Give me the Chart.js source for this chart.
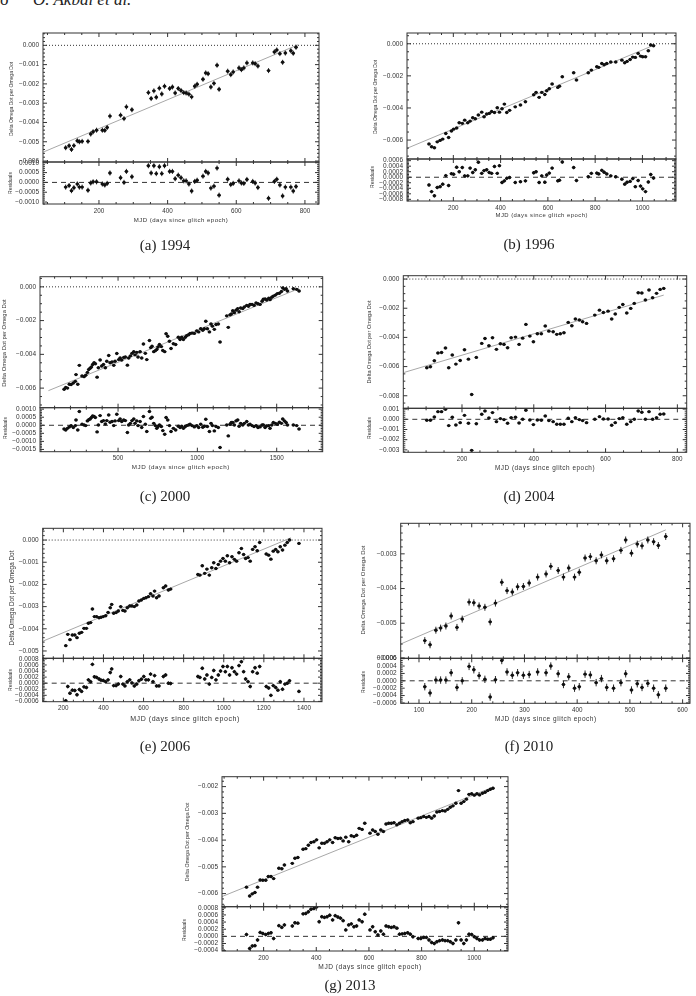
<!DOCTYPE html>
<html><head><meta charset="utf-8">
<script src="https://cdn.jsdelivr.net/npm/chart.js@4.4.1/dist/chart.umd.min.js"></script>
<style>
html,body{margin:0;padding:0;background:#fff;}
body{width:696px;height:996px;position:relative;overflow:hidden;font-family:'Liberation Sans',Arial,sans-serif;}
canvas{position:absolute;}
.t{position:absolute;white-space:nowrap;color:#333;line-height:1;}
.xt{transform:translate(-50%,-50%);letter-spacing:0.08em;}
.yt{transform:translate(-50%,-50%) rotate(-90deg);}
.cap{position:absolute;white-space:nowrap;font-family:'Liberation Serif','Times New Roman',serif;font-size:15px;color:#222;line-height:1;transform:translate(-50%,-50%);}
.hdr{position:absolute;white-space:nowrap;font-family:'Liberation Serif',serif;font-style:italic;font-size:17px;line-height:17px;color:#222;top:-9px;}
</style></head><body>
<div class="hdr" style="left:0px">6</div>
<div class="hdr" style="left:33px">O. Akbal et al.</div>
<script>
// ---------------- DATA ----------------
// (a) 1994
const aX = [103,113,120,127,137,143,151,168,176,183,193,210,217,224,232,263,273,280,296,344,352,360,367,376,383,391,406,414,422,431,439,447,454,462,470,479,486,503,511,518,526,535,544,550,575,584,591,608,615,622,631,648,655,663,694,711,718,727,735,743,759,766,774];
const aY = [-0.00531,-0.00521,-0.0054,-0.0052,-0.00495,-0.005,-0.00498,-0.00498,-0.0046,-0.00448,-0.0044,-0.0044,-0.00441,-0.00426,-0.00367,-0.00362,-0.0038,-0.00319,-0.00334,-0.00245,-0.00276,-0.00236,-0.00269,-0.00222,-0.00252,-0.00212,-0.00224,-0.00216,-0.00247,-0.00224,-0.00234,-0.00245,-0.00247,-0.00253,-0.00267,-0.00212,-0.00202,-0.00176,-0.00143,-0.00147,-0.00216,-0.00197,-0.00103,-0.00228,-0.00134,-0.00152,-0.00138,-0.00117,-0.00126,-0.00117,-0.00091,-0.00091,-0.00095,-0.00107,-0.00131,-0.00034,-0.00024,-0.00043,-0.00088,-0.0004,-0.00028,-0.00041,-0.0001];
const aR = [-0.00024,-0.00016,-0.00042,-0.00027,-0.00008,-0.00024,-0.00024,-0.0004,-0.00003,0.00003,0.00003,-0.00008,-0.00013,-0.00005,0.00048,0.00024,0,0.00056,0.00029,0.00085,0.00048,0.00085,0.00045,0.0008,0.00045,0.00085,0.00056,0.00056,0.00019,0.00037,0.00024,0.00008,0.00008,-0.00008,-0.00044,0.00005,0.00011,0.00032,0.00056,0.00048,-0.00029,-0.00019,0.00073,-0.00065,0.00016,-0.00011,-0.00005,0.00008,-0.00003,-0.00005,0.00015,0.00005,-0.00003,-0.00026,-0.00081,0.00005,0.00016,-0.00013,-0.00069,-0.00024,-0.00024,-0.00044,-0.00021];
const aFitX = [40,780];
const aFitY = [-0.00552,0.00003];
const aXT = [200,400,600,800];
const aYT = [0,-0.001,-0.002,-0.003,-0.004,-0.005,-0.006];
const aRT = [0.001,0.0005,0,-0.0005,-0.001];

// (b) 1996
const bX = [97,108,120,132,144,155,168,180,192,201,214,225,238,248,261,271,282,293,306,320,330,341,352,362,374,386,395,406,416,426,438,462,484,505,540,550,563,574,587,595,606,618,642,649,661,709,721,771,784,807,815,828,838,849,866,887,913,925,935,948,959,970,982,992,1001,1013,1025,1035,1047];
const bY = [-0.00625,-0.00642,-0.00648,-0.00611,-0.00602,-0.00594,-0.00559,-0.00584,-0.00544,-0.00532,-0.00525,-0.00492,-0.00496,-0.00476,-0.00492,-0.00482,-0.00461,-0.00467,-0.00444,-0.00426,-0.00455,-0.00438,-0.00434,-0.00422,-0.00428,-0.00399,-0.00426,-0.00405,-0.00376,-0.00428,-0.00415,-0.00393,-0.00382,-0.00361,-0.00318,-0.00303,-0.00334,-0.00303,-0.00316,-0.00293,-0.0028,-0.00251,-0.00272,-0.00264,-0.00206,-0.00181,-0.00226,-0.00181,-0.00164,-0.00143,-0.00147,-0.00123,-0.00131,-0.00123,-0.00114,-0.00114,-0.00102,-0.00118,-0.0011,-0.00098,-0.00083,-0.00085,-0.0006,-0.00077,-0.00081,-0.00081,-0.00044,-0.00008,-0.00012];
const bR = [-0.00028,-0.00052,-0.00067,-0.00037,-0.00034,-0.00025,0.00006,-0.0003,0.00013,0.00011,0.00036,0.0002,0.00035,0.00005,0.00005,0.00033,0.00017,0.00027,0.00054,0.00014,0.00024,0.00027,0.00017,0.00014,0.00039,0.00014,0.00042,-0.00019,-0.00013,-0.00004,-0.00001,-0.00019,-0.00016,-0.00013,0.00016,0.0002,-0.00019,0.00005,-0.00018,0.00008,0.00015,0.00033,-0.00013,-0.00011,0.00055,0.00035,-0.00012,0.00002,0.00014,0.00015,0.00012,0.00025,0.00018,0.00012,0.00005,0.00002,-0.00007,-0.00025,-0.00018,-0.00015,-0.00005,-0.00034,-0.00012,-0.00032,-0.00042,-0.00052,-0.00017,0.0001,-0.00003];
const bFitX = [3,1050];
const bFitY = [-0.00652,-0.00008];
const bXT = [200,400,600,800,1000];
const bYT = [0,-0.002,-0.004,-0.006];
const bRT = [0.0006,0.0004,0.0002,0,-0.0002,-0.0004,-0.0006,-0.0008];

// (c) 2000
const cX = [160,170,181,193,204,218,231,235,246,256,273,286,296,307,315,324,332,340,349,357,368,376,387,397,408,420,429,441,450,462,473,481,492,504,513,523,536,546,559,567,578,588,599,607,618,626,639,649,660,672,681,698,706,714,725,735,744,752,761,773,782,794,803,813,824,834,849,863,880,891,901,912,924,933,945,954,966,981,996,1008,1021,1034,1044,1053,1063,1076,1086,1095,1107,1118,1132,1143,1185,1195,1206,1214,1223,1233,1244,1254,1263,1273,1286,1296,1311,1322,1332,1345,1357,1370,1382,1395,1408,1416,1427,1437,1450,1458,1469,1479,1492,1504,1517,1530,1538,1549,1559,1568,1605,1626,1641];
const cY = [-0.00607,-0.00596,-0.006,-0.00577,-0.00579,-0.0057,-0.0056,-0.0052,-0.00577,-0.00465,-0.00528,-0.00532,-0.00524,-0.00507,-0.0049,-0.00482,-0.00475,-0.0046,-0.0045,-0.00456,-0.00535,-0.00479,-0.00433,-0.00469,-0.0046,-0.00479,-0.00441,-0.00407,-0.0045,-0.00445,-0.00465,-0.00441,-0.00395,-0.00431,-0.00422,-0.00433,-0.00418,-0.00416,-0.00464,-0.00422,-0.00409,-0.00394,-0.00384,-0.00403,-0.00388,-0.00416,-0.00384,-0.00422,-0.00339,-0.00394,-0.00431,-0.00318,-0.0036,-0.00352,-0.00384,-0.00378,-0.00371,-0.00356,-0.00342,-0.00354,-0.00377,-0.00384,-0.00278,-0.00293,-0.00322,-0.00365,-0.00337,-0.00342,-0.00299,-0.00312,-0.00299,-0.00312,-0.00299,-0.00289,-0.00284,-0.00276,-0.00274,-0.00276,-0.00261,-0.00267,-0.00248,-0.00257,-0.00248,-0.00204,-0.00248,-0.00267,-0.0022,-0.00233,-0.00252,-0.00223,-0.0022,-0.00327,-0.00172,-0.0024,-0.00166,-0.00161,-0.00142,-0.00153,-0.00138,-0.00129,-0.00148,-0.00125,-0.00129,-0.00119,-0.0011,-0.00115,-0.00104,-0.00104,-0.0011,-0.00096,-0.001,-0.00104,-0.00085,-0.00074,-0.00072,-0.00078,-0.00068,-0.00076,-0.00062,-0.00055,-0.00049,-0.0004,-0.00038,-0.00028,-0.00006,-0.00015,-0.00011,-0.00025,-0.00011,-0.00015,-0.00025];
const cR = [-0.00023,-0.00029,-0.00019,-0.0001,-0.00002,-0.00014,-0.00002,0.00033,-0.00029,0.00085,0.00006,0.00002,-0.00002,0.00027,0.00035,0.00039,0.00048,0.00058,0.00054,0.00048,-0.00041,0.00002,0.0006,0.00023,0.00029,0.00008,0.00029,0.00064,0.00019,0.00023,-0.00002,0.00027,0.00068,0.00029,0.00039,0.00023,0.00033,0.00029,-0.00045,0.00002,0.00012,0.00029,0.00039,0.00012,0.00027,-0.00002,0.00023,-0.00014,0.00054,0.00006,-0.00039,0.00085,0.00043,0.0005,0.00012,-0.00002,-0.00019,-0.00008,0.00002,-0.00008,-0.00033,-0.00056,0.00048,0.00033,-0.00002,-0.00039,-0.00019,-0.00029,-0.00006,-0.00014,-0.00006,-0.00019,-0.00008,-0.00002,0.00002,0.00006,-0.00002,-0.0001,-0.00002,-0.00014,0.00006,-0.00012,-0.00006,0.00037,-0.00008,-0.00039,0.00012,-0.00002,-0.00035,-0.00008,-0.00014,-0.00138,0.00002,-0.00066,0.00006,0.00017,0.00017,0.00002,0.00027,0.00033,-0.00006,0.00012,0.00002,0.00012,0.00023,0.00002,0.00006,-0.00002,-0.00008,-0.00002,-0.00014,-0.0001,0.00002,0.00002,-0.00014,-0.00004,-0.00002,-0.00019,0.00002,0.00017,0.00012,0.00006,0.00019,0.00012,0.00039,0.00027,0.00017,0.00002,0.00002,-0.00002,-0.00023];
const cFitX = [61,1641];
const cFitY = [-0.00615,-0.0001];
const cXT = [500,1000,1500];
const cYT = [0,-0.002,-0.004,-0.006];
const cRT = [0.001,0.0005,0,-0.0005,-0.001,-0.0015];

// (d) 2004
const dX = [102,112,123,133,143,154,163,173,183,195,207,218,227,240,255,264,275,285,296,307,317,327,337,349,359,369,378,389,399,410,421,432,442,454,464,474,484,496,506,516,527,536,547,570,583,594,607,617,627,638,648,659,670,680,691,701,711,721,731,742,752,762];
const dY = [-0.00608,-0.00601,-0.0056,-0.00507,-0.00503,-0.00473,-0.00608,-0.00521,-0.00583,-0.00558,-0.00485,-0.00549,-0.00791,-0.00537,-0.00441,-0.00407,-0.00457,-0.00402,-0.00482,-0.00443,-0.00448,-0.00471,-0.00402,-0.00398,-0.00448,-0.00405,-0.00311,-0.00391,-0.0043,-0.00375,-0.00375,-0.00322,-0.00357,-0.00361,-0.00379,-0.00375,-0.00368,-0.00297,-0.0032,-0.00274,-0.00281,-0.00293,-0.00304,-0.00247,-0.00213,-0.00229,-0.0022,-0.00274,-0.0024,-0.00194,-0.00174,-0.00233,-0.00201,-0.00167,-0.00094,-0.00096,-0.00144,-0.00075,-0.00128,-0.00098,-0.00071,-0.00064];
const dR = [-0.0001,-0.0001,0.00023,0.00075,0.00075,0.00098,-0.00062,0.0002,-0.00056,-0.00033,0.00039,-0.00039,-0.00305,-0.00043,0.00049,0.00082,0.00013,0.00066,-0.00023,0.00007,-0.00003,-0.00039,0.00016,0.0002,-0.00036,0,0.00089,-0.00007,-0.00052,-0.00007,-0.0001,0.00033,-0.00013,-0.00023,-0.00049,-0.00049,-0.00049,0.0001,-0.00023,0.00016,-0.00003,-0.00013,-0.00033,0,0.00026,0.00003,0.00003,-0.00059,-0.00033,0.00007,0.00016,-0.00049,-0.00023,0,0.00082,0.00069,0,0.00075,0,0.00016,0.00049,0.00052];
const dFitX = [39,762];
const dFitY = [-0.0064,-0.0011];
const dXT = [200,400,600,800];
const dYT = [0,-0.002,-0.004,-0.006,-0.008];
const dRT = [0.001,0,-0.001,-0.002,-0.003];

// (e) 2006
const eX = [212,222,233,245,257,268,280,291,303,315,325,336,345,355,366,378,388,399,411,423,434,441,451,463,474,486,497,507,519,531,542,554,566,577,589,601,612,624,635,647,655,665,677,699,710,724,735,871,881,893,905,916,928,940,950,961,973,984,996,1008,1018,1029,1041,1053,1064,1076,1088,1099,1109,1121,1132,1144,1156,1167,1179,1212,1224,1235,1247,1259,1270,1282,1293,1305,1317,1328,1375];
const eY = [-0.00476,-0.00425,-0.00449,-0.00428,-0.00428,-0.0044,-0.0042,-0.00416,-0.00398,-0.00398,-0.00375,-0.00372,-0.00311,-0.00345,-0.00345,-0.0035,-0.00348,-0.00345,-0.00341,-0.00326,-0.00305,-0.0029,-0.0033,-0.00327,-0.0032,-0.003,-0.00317,-0.0032,-0.00305,-0.00297,-0.00297,-0.003,-0.00293,-0.00275,-0.0027,-0.00263,-0.0026,-0.00255,-0.00242,-0.00252,-0.0023,-0.0026,-0.00252,-0.00215,-0.00207,-0.00225,-0.00221,-0.00155,-0.00158,-0.00116,-0.0015,-0.00131,-0.00158,-0.00125,-0.00102,-0.00128,-0.0011,-0.00095,-0.00083,-0.00095,-0.00071,-0.00102,-0.00075,-0.00087,-0.00095,-0.00057,-0.00038,-0.00065,-0.00083,-0.00079,-0.00095,-0.00042,-0.0003,-0.00048,-0.00011,-0.00063,-0.00068,-0.00086,-0.0005,-0.00042,-0.00053,-0.0003,-0.00045,-0.00023,-0.00011,0,-0.00015];
const eR = [-0.00058,-0.00011,-0.00033,-0.00023,-0.00024,-0.00038,-0.00021,-0.00027,-0.00012,-0.00014,0.00011,0.00005,0.00062,0.00021,0.00019,0.00014,0.0001,0.00009,0.00005,0.00011,0.00035,0.00047,-0.00008,-0.00008,-0.00003,0.00022,-0.00003,-0.00009,0.00005,0.00011,0.00001,-0.00009,-0.00003,0.00008,0.00013,0.00022,0.00011,0.00011,0.0003,0.00005,0.00025,-0.00009,-0.00009,0.00022,0.00027,0,-0.00001,0.00022,0.00019,0.00049,0.00014,0.00027,-0.00003,0.00019,0.00042,0.00011,0.00027,0.0004,0.00055,0.00038,0.00055,0.00027,0.00051,0.00038,0.0003,0.00058,0.00071,0.00038,0.00014,0.00005,-0.00011,0.00038,0.00051,0.00033,0.00055,-0.00011,-0.00016,-0.0004,-0.00008,-0.00014,-0.00023,0.00005,-0.0002,-0.00003,0,0.00008,-0.00027];
const eFitX = [100,1335];
const eFitY = [-0.00455,0.0001];
const eXT = [200,400,600,800,1000,1200,1400];
const eYT = [0,-0.001,-0.002,-0.003,-0.004,-0.005];
const eRT = [0.0008,0.0006,0.0004,0.0002,0,-0.0002,-0.0004,-0.0006];

// (f) 2010
const fX = [111,121,132,141,151,161,172,182,195,204,214,225,235,245,257,267,277,287,298,309,325,341,350,364,374,384,395,404,415,425,436,446,456,469,483,492,503,514,523,534,545,554,568];
const fY = [-0.0055,-0.00562,-0.0052,-0.00514,-0.00508,-0.00479,-0.00512,-0.00488,-0.00439,-0.00441,-0.0045,-0.00454,-0.00496,-0.00442,-0.00382,-0.00406,-0.0041,-0.00395,-0.00394,-0.00384,-0.00367,-0.00358,-0.00336,-0.00348,-0.00367,-0.00341,-0.00367,-0.00353,-0.00312,-0.00308,-0.0032,-0.00303,-0.0032,-0.00314,-0.0029,-0.0026,-0.00298,-0.00272,-0.00277,-0.0026,-0.00265,-0.00276,-0.0025];
const fR = [-0.00016,-0.00033,0.00002,0.00002,0.00002,0.00022,-0.00018,0,0.00039,0.0003,0.00014,0.00004,-0.00044,0.00003,0.00055,0.00024,0.00015,0.00022,0.00015,0.00017,0.00024,0.00022,0.0004,0.00019,-0.0001,0.00011,-0.0002,-0.00016,0.00018,0.00016,-0.00005,0.00006,-0.00018,-0.0002,-0.00005,0.00019,-0.00025,-0.00008,-0.00018,-0.00007,-0.0002,-0.00038,-0.0002];
const fFitX = [65,568];
const fFitY = [-0.0056,-0.00231];
const fXT = [100,200,300,400,500,600];
const fYT = [-0.003,-0.004,-0.005,-0.006];
const fRT = [0.0006,0.0004,0.0002,0,-0.0002,-0.0004,-0.0006];

// (g) 2013
const gX = [135,147,157,167,177,187,197,208,218,228,238,258,269,279,309,319,330,350,360,370,380,391,401,411,421,431,441,451,462,472,482,492,502,512,523,533,543,553,563,574,584,604,614,624,634,645,655,665,675,685,695,706,716,726,736,747,757,767,787,797,808,818,828,838,848,858,868,879,889,899,909,919,930,940,950,960,970,980,990,1000,1010,1020,1031,1041,1051,1061,1071];
const gY = [-0.00576,-0.00609,-0.00601,-0.00596,-0.00576,-0.00549,-0.0055,-0.0055,-0.00536,-0.00536,-0.00544,-0.00505,-0.00507,-0.00493,-0.00487,-0.00468,-0.00465,-0.00434,-0.00432,-0.00419,-0.00409,-0.00406,-0.00399,-0.00429,-0.00412,-0.00412,-0.00406,-0.00399,-0.00409,-0.00391,-0.00394,-0.00393,-0.00403,-0.00389,-0.00406,-0.00384,-0.00387,-0.00382,-0.00356,-0.0036,-0.00337,-0.00374,-0.00362,-0.00368,-0.00378,-0.00362,-0.00368,-0.0034,-0.00337,-0.00337,-0.00335,-0.00343,-0.00337,-0.00331,-0.00327,-0.00325,-0.00335,-0.00331,-0.00318,-0.00316,-0.00312,-0.00315,-0.00312,-0.00318,-0.0031,-0.00295,-0.00293,-0.0029,-0.00291,-0.00285,-0.00277,-0.00272,-0.00262,-0.00215,-0.00262,-0.00256,-0.00247,-0.00229,-0.00227,-0.00232,-0.00227,-0.00231,-0.00225,-0.00221,-0.00215,-0.0021,-0.00206];
const gR = [0.00005,-0.00034,-0.00027,-0.00026,-0.0001,0.00011,0.00008,0.00005,0.00008,0.0001,-0.00006,0.0003,0.00025,0.00032,0.00029,0.00038,0.00037,0.00063,0.00064,0.00069,0.00076,0.00078,0.00082,0.00041,0.00055,0.00053,0.00055,0.00059,0.00046,0.00058,0.00054,0.00051,0.00044,0.00018,0.00032,0.00035,0.00027,0.00029,0.00046,0.00041,0.00062,0.00018,0.00027,0.00013,0.00004,0.00015,0.00006,0.00029,0.00027,0.00025,0.00027,0.00023,0.00006,0.00007,0.00008,0.0001,0.00006,-0.00001,-0.00006,-0.00006,-0.00003,-0.00003,-0.0001,-0.00017,-0.0002,-0.00015,-0.00012,-0.0001,-0.00012,-0.00012,-0.00015,-0.0002,-0.0001,0.00038,-0.0001,-0.0002,-0.0001,0.00006,0.00005,-0.00001,-0.00006,-0.0001,-0.0001,-0.00006,-0.00008,-0.00008,-0.00004];
const gFitX = [42,1071];
const gFitY = [-0.00611,-0.00202];
const gXT = [200,400,600,800,1000];
const gYT = [-0.002,-0.003,-0.004,-0.005,-0.006];
const gRT = [0.0008,0.0006,0.0004,0.0002,0,-0.0002,-0.0004];

const xTitle = 'MJD (days since glitch epoch)';
const yTitle = 'Delta Omega Dot per Omega Dot';
const rTitle = 'Residuals';

// ---------------- LAYOUT ----------------
const panels = [
 {X:aX,Y:aY,R:aR,FX:aFitX,FY:aFitY,XT:aXT,YT:aYT,RT:aRT, L:43,Rt:319,T:33,M:162,B:204, xr:[37,841], yr:[-0.00605,0.00064], rr:[-0.0011,0.00104], zero:true, err:0.00013, xMin:4,yMin:5,rMin:5,rDec:4, cap:[165,244.5,'(a) 1994'], xt:[181,220,6.05], yt:[10.5,99,5], rt:[10,183,5]},
 {X:bX,Y:bY,R:bR,FX:bFitX,FY:bFitY,XT:bXT,YT:bYT,RT:bRT, L:407,Rt:676,T:33,M:159,B:201, xr:[4,1142], yr:[-0.00718,0.00067], rr:[-0.00086,0.00066], zero:true, err:0.00006, xMin:4,yMin:4,rMin:4,rDec:4, cap:[529,244.3,'(b) 1996'], xt:[541.7,216,5.9], yt:[375,97,5], rt:[371.7,177,5]},
 {X:cX,Y:cY,R:cR,FX:cFitX,FY:cFitY,XT:cXT,YT:cYT,RT:cRT, L:40,Rt:322.7,T:276.7,M:407.7,B:451.7, xr:[8,1790], yr:[-0.00716,0.0006], rr:[-0.00164,0.00109], zero:true, err:0.00007, xMin:5,yMin:4,rMin:5,rDec:4, cap:[165,496,'(c) 2000'], xt:[180.8,466.7,6.25], yt:[5,343,5.9], rt:[4.5,428,5]},
 {X:dX,Y:dY,R:dR,FX:dFitX,FY:dFitY,XT:dXT,YT:dYT,RT:dRT, L:403.3,Rt:686.7,T:275.7,M:408.3,B:452.3, xr:[36.5,826], yr:[-0.00886,0.00023], rr:[-0.00324,0.00108], zero:true, err:0.00005, xMin:4,yMin:4,rMin:5,rDec:3, cap:[529,496,'(d) 2004'], xt:[545,467.7,6.4], yt:[370,342,5.6], rt:[369,428,5]},
 {X:eX,Y:eY,R:eR,FX:eFitX,FY:eFitY,XT:eXT,YT:eYT,RT:eRT, L:42.7,Rt:322,T:528.3,M:658.3,B:701.7, xr:[97,1490], yr:[-0.00533,0.00053], rr:[-0.00061,0.00082], zero:true, err:0.00006, xMin:4,yMin:5,rMin:4,rDec:4, cap:[165,746,'(e) 2006'], xt:[185,717.7,7.0], yt:[12,598,6.4], rt:[10,680,5]},
 {X:fX,Y:fY,R:fR,FX:fFitX,FY:fFitY,XT:fXT,YT:fYT,RT:fRT, L:400.7,Rt:690,T:523.3,M:658.3,B:703.3, xr:[65.3,614], yr:[-0.00601,-0.00212], rr:[-0.00061,0.00061], zero:false, err:0.0001, xMin:5,yMin:5,rMin:4,rDec:4, cap:[529,746,'(f) 2010'], xt:[545.8,719.3,6.5], yt:[363,590,6], rt:[362.7,681.7,5]},
 {X:gX,Y:gY,R:gR,FX:gFitX,FY:gFitY,XT:gXT,YT:gYT,RT:gRT, L:222,Rt:508,T:776.7,M:906.7,B:951, xr:[42,1128], yr:[-0.00649,-0.00163], rr:[-0.00041,0.00083], zero:false, err:0.00005, xMin:4,yMin:5,rMin:4,rDec:4, cap:[350,985,'(g) 2013'], xt:[370,966.7,6.6], yt:[188,842,5.3], rt:[184,930,5]}
];

// ---------------- PLUGINS ----------------
const FAM = "'Liberation Sans', Arial, sans-serif";
function tickList(step, minor, min, max){
  const out=[]; const d = step/minor;
  const i0 = Math.floor(min/d)-1, i1 = Math.ceil(max/d)+1;
  for(let i=i0;i<=i1;i++){ const v=i*d; if(v>=min-1e-12 && v<=max+1e-12) out.push({v, major: ((i%minor)+minor)%minor===0}); }
  return out;
}
const frameTicks = {
  id:'frameTicks',
  afterDraw(chart, args, o){
    const {ctx, chartArea:a} = chart; const xs=chart.scales.x, ys=chart.scales.y;
    ctx.save(); ctx.strokeStyle='#333'; ctx.lineWidth=1;
    ctx.strokeRect(a.left, a.top, a.right-a.left, a.bottom-a.top);
    ctx.beginPath();
    const xstep = Math.abs(o.xT[1]-o.xT[0]);
    tickList(xstep, o.xMinor, xs.min, xs.max).forEach(t=>{
      const p = xs.getPixelForValue(t.v); const len = t.major?4:2;
      ctx.moveTo(p, a.bottom); ctx.lineTo(p, a.bottom-len);
      ctx.moveTo(p, a.top); ctx.lineTo(p, a.top+len);
    });
    const ystep = Math.abs(o.yT[1]-o.yT[0]);
    tickList(ystep, o.yMinor, ys.min, ys.max).forEach(t=>{
      const p = ys.getPixelForValue(t.v); const len = t.major?4:2;
      ctx.moveTo(a.left, p); ctx.lineTo(a.left+len, p);
      ctx.moveTo(a.right, p); ctx.lineTo(a.right-len, p);
    });
    ctx.stroke(); ctx.restore();
  }
};
const errBars = {
  id:'errBars',
  afterDatasetsDraw(chart, args, o){
    const {ctx, chartArea:a} = chart; const ys=chart.scales.y;
    const meta = chart.getDatasetMeta(0); const ds = chart.data.datasets[0].data;
    ctx.save(); ctx.beginPath(); ctx.rect(a.left,a.top,a.right-a.left,a.bottom-a.top); ctx.clip();
    ctx.strokeStyle='#111'; ctx.lineWidth=0.9; ctx.beginPath();
    meta.data.forEach((el,i)=>{
      const v = ds[i].y;
      ctx.moveTo(el.x, ys.getPixelForValue(v+o.err)); ctx.lineTo(el.x, ys.getPixelForValue(v-o.err));
      ctx.moveTo(el.x-1.8, el.y); ctx.lineTo(el.x+1.8, el.y);
    });
    ctx.stroke(); ctx.restore();
  }
};
function fmt(v, d){ return (v<0?'\u2212':'') + Math.abs(v).toFixed(d); }

function makeChart(p, resid){
  const AXW = 36, AXH = resid?14:0;
  const top = resid ? p.M : p.T, bot = resid ? p.B : p.M;
  const cl = Math.max(0, Math.floor(p.L - 40)), ct = Math.floor(top - 6);
  const cw = Math.ceil(p.Rt + 4) - cl, ch = Math.ceil(bot + (resid?16:6)) - ct;
  const cv = document.createElement('canvas');
  cv.width = cw; cv.height = ch; cv.style.left = cl+'px'; cv.style.top = ct+'px';
  cv.style.width = cw+'px'; cv.style.height = ch+'px';
  document.body.appendChild(cv);
  const Yv = resid ? p.R : p.Y;
  const yT = resid ? p.RT : p.YT;
  const yr = resid ? p.rr : p.yr;
  const dec = resid ? p.rDec : 3;
  const datasets = [{
    data: p.X.map((x,i)=>({x, y: Yv[i]})),
    showLine:false, pointRadius:1.7, pointStyle:'circle', backgroundColor:'#111', borderColor:'#111', borderWidth:0
  }];
  if(!resid){
    datasets.push({data: p.FX.map((x,i)=>({x, y:p.FY[i]})), showLine:true, pointRadius:0, borderColor:'#a8a8a8', borderWidth:1});
    if(p.zero) datasets.push({data:[{x:p.xr[0],y:0},{x:p.xr[1],y:0}], showLine:true, pointRadius:0, borderColor:'#333', borderWidth:1, borderDash:[1,2]});
  } else {
    datasets.push({data:[{x:p.xr[0],y:0},{x:p.xr[1],y:0}], showLine:true, pointRadius:0, borderColor:'#333', borderWidth:1, borderDash:[5,4]});
  }
  new Chart(cv, {
    type:'scatter',
    data:{datasets},
    plugins:[frameTicks, errBars],
    options:{
      responsive:false, animation:false, devicePixelRatio:1, events:[],
      layout:{padding:{left:(p.L-cl)-AXW, top: top-ct, right: cl+cw-p.Rt, bottom: ct+ch-bot-AXH}},
      plugins:{legend:{display:false}, tooltip:{enabled:false},
        frameTicks:{xT:p.XT, yT:yT, xMinor:p.xMin, yMinor: resid?p.rMin:p.yMin},
        errBars:{err:p.err}},
      scales:{
        x:{type:'linear', position:'bottom', min:p.xr[0], max:p.xr[1],
           grid:{display:false, drawTicks:false}, border:{display:false},
           ticks:{display:resid, autoSkip:false, maxRotation:0, padding:3, color:'#333', font:{family:FAM, size:6.3}, callback:v=>String(v)},
           afterBuildTicks:s=>{ s.ticks = p.XT.filter(v=>v>=p.xr[0]&&v<=p.xr[1]).map(v=>({value:v})); },
           afterFit:s=>{ s.height = AXH; s.paddingLeft=0; s.paddingRight=0; }},
        y:{type:'linear', position:'left', min:yr[0], max:yr[1],
           grid:{display:false, drawTicks:false}, border:{display:false},
           ticks:{autoSkip:false, padding:4, color:'#333', font:{family:FAM, size:6.5}, callback:v=>fmt(v,dec)},
           afterBuildTicks:s=>{ s.ticks = yT.filter(v=>v>=yr[0]-1e-12&&v<=yr[1]+1e-12).map(v=>({value:v})); },
           afterFit:s=>{ s.width = AXW; s.paddingTop=0; s.paddingBottom=0; }}
      }
    }
  });
}
function addText(cls, x, y, size, txt){
  const d = document.createElement('div');
  d.className = cls; d.textContent = txt;
  d.style.left = x+'px'; d.style.top = y+'px';
  if(size) d.style.fontSize = size+'px';
  document.body.appendChild(d);
  return d;
}
panels.forEach(p=>{
  makeChart(p, false);
  makeChart(p, true);
  addText('t xt', p.xt[0], p.xt[1], p.xt[2], xTitle);
  addText('t yt', p.yt[0], p.yt[1], p.yt[2], yTitle);
  addText('t yt', p.rt[0], p.rt[1], p.rt[2], rTitle);
  addText('cap', p.cap[0], p.cap[1], null, p.cap[2]);
});
</script>
</body></html>
